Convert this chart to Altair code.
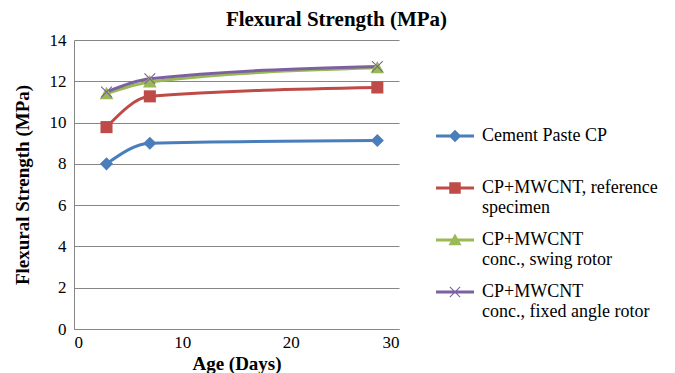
import altair as alt
import pandas as pd

ages = [3, 7, 28]
series = [
    "Cement Paste CP",
    "CP+MWCNT, reference specimen",
    "CP+MWCNT conc., swing rotor",
    "CP+MWCNT conc., fixed angle rotor",
]
cement_paste = [8.0, 9.0, 9.13]
reference = [9.78, 11.27, 11.7]
swing_rotor = [11.4, 11.97, 12.65]
fixed_angle = [11.48, 12.12, 12.72]

colors = ["#4A7EBB", "#BE4B48", "#98B954", "#7D60A0"]

values = [cement_paste, reference, swing_rotor, fixed_angle]
rows = []
for name, vals in zip(series, values):
    for a, v in zip(ages, vals):
        rows.append({"Age": a, "Strength": v, "Series": name})
df = pd.DataFrame(rows)

bar = "M-3.8,-0.28L3.8,-0.28L3.8,0.28L-3.8,0.28Z"
diamond = "M-1.25,0L0,-1.25L1.25,0L0,1.25Z"
square = "M-1.15,-1.15L1.15,-1.15L1.15,1.15L-1.15,1.15Z"
triangle = "M-1.3,1.05L0,-1.3L1.3,1.05Z"
xmark = "M-1.1,-0.95L-0.95,-1.1L1.1,0.95L0.95,1.1Z M-1.1,0.95L0.95,-1.1L1.1,-0.95L-0.95,1.1Z"

marker_paths = [diamond, square, triangle, xmark]
legend_paths = [bar + " " + p for p in marker_paths]

color_scale = alt.Scale(domain=series, range=colors)
font = "Liberation Serif"

x_enc = alt.X(
    "Age:Q",
    scale=alt.Scale(domain=[0, 30], nice=False),
    axis=alt.Axis(values=[0, 10, 20, 30], title="Age (Days)", grid=False),
)
y_enc = alt.Y(
    "Strength:Q",
    scale=alt.Scale(domain=[0, 14], nice=False),
    axis=alt.Axis(values=[0, 2, 4, 6, 8, 10, 12, 14], title="Flexural Strength (MPa)"),
)

base = alt.Chart(df)

lines = base.mark_line(interpolate="monotone", strokeWidth=3).encode(
    x=x_enc, y=y_enc,
    color=alt.Color("Series:N", scale=color_scale, legend=None),
    detail="Series:N",
)

points = base.mark_point(filled=True, size=110, opacity=1, strokeWidth=0).encode(
    x=x_enc, y=y_enc,
    color=alt.Color("Series:N", scale=color_scale, legend=None),
    shape=alt.Shape("Series:N", scale=alt.Scale(domain=series, range=marker_paths), legend=None),
)

legend_spec = alt.Legend(
    title=None,
    orient="none",
    legendX=372,
    legendY=87,
    symbolOpacity=1,
    symbolSize=100,
    symbolStrokeWidth=0,
    labelFont=font,
    labelFontSize=18,
    labelColor="#000000",
    labelLimit=300,
    labelOffset=18,
    rowPadding=14,
    labelExpr="datum.label == 'Cement Paste CP' ? ['Cement Paste CP', ' '] : datum.label == 'CP+MWCNT, reference specimen' ? ['CP+MWCNT, reference', 'specimen'] : datum.label == 'CP+MWCNT conc., swing rotor' ? ['CP+MWCNT', 'conc., swing rotor'] : ['CP+MWCNT', 'conc., fixed angle rotor']",
)

legend_layer = base.mark_point(filled=True, size=100, opacity=0, strokeWidth=0).encode(
    x=x_enc, y=y_enc,
    color=alt.Color("Series:N", scale=color_scale, legend=legend_spec),
    shape=alt.Shape("Series:N", scale=alt.Scale(domain=series, range=legend_paths), legend=legend_spec),
)

chart = (
    alt.layer(lines, points, legend_layer)
    .resolve_scale(shape="independent", color="independent")
    .properties(
        width=325,
        height=289,
        autosize=alt.AutoSizeParams(type="none"),
        padding={"left": 74, "top": 40, "right": 276, "bottom": 44},
        background="#FFFFFF",
        title=alt.TitleParams(
            "Flexural Strength (MPa)",
            font=font,
            fontSize=21,
            fontWeight="bold",
            anchor="middle",
            dx=100,
            offset=1,
            color="#000000",
        ),
    )
    .configure_view(stroke=None)
    .configure_axis(
        labelFont=font,
        labelFontSize=17,
        labelColor="#000000",
        titleFont=font,
        titleFontSize=19,
        titleFontWeight="bold",
        titleColor="#000000",
        ticks=False,
        domainColor="#868686",
        domainWidth=1,
        gridColor="#868686",
        gridWidth=1,
        labelPadding=8,
    )
    .configure_axisY(titlePadding=17)
    .configure_axisX(titlePadding=4, labelPadding=5)
)

chart.save("out.html", embed_options={"renderer": "svg", "actions": False})
